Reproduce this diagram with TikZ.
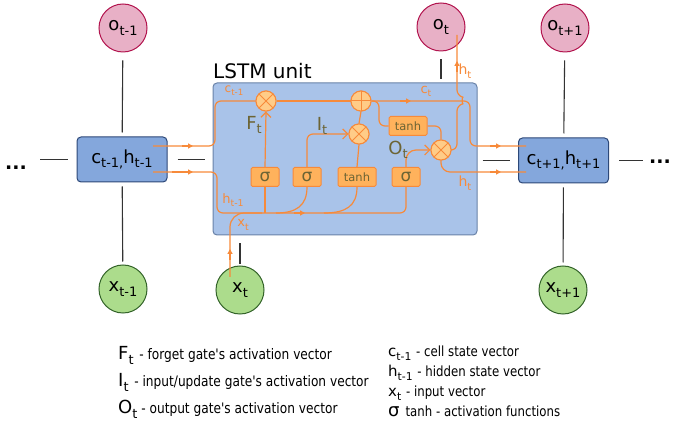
\documentclass[tikz,border=0pt]{standalone}
\usepackage{fontspec}
\setmainfont{DejaVu Sans}
\newfontfamily\narrowfont[FakeStretch=0.84]{DejaVu Sans}
\usetikzlibrary{arrows.meta,calc}
\definecolor{orline}{RGB}{247,138,58}
\definecolor{gfill}{RGB}{255,178,92}
\definecolor{opfill}{RGB}{255,204,136}
\definecolor{unitfill}{RGB}{169,195,233}
\definecolor{unitline}{RGB}{105,130,168}
\definecolor{stfill}{RGB}{132,167,220}
\definecolor{stline}{RGB}{45,72,120}
\definecolor{ofill}{RGB}{232,176,198}
\definecolor{oline}{RGB}{178,20,78}
\definecolor{xfill}{RGB}{172,220,140}
\definecolor{xline}{RGB}{52,100,42}
\definecolor{olive}{RGB}{108,100,52}
\newcommand\lsub[1]{\raisebox{-0.45ex}{\scalebox{0.72}{#1}}}
\newcommand\fs[1]{\fontsize{#1}{#1}\selectfont}
\begin{document}
\begin{tikzpicture}[x=1pt,y=-1pt,
  conn/.style={draw=black!80, line width=1.1pt},
  orl/.style={draw=orline, line width=1.2pt, rounded corners=6pt},
  orarr/.style={draw=orline, line width=1.2pt, -{Triangle[length=5pt,width=5pt]}},
  openarr/.style={-{Straight Barb[length=5pt,width=10pt]}},
  statebox/.style={rectangle, rounded corners=4pt, fill=stfill, draw=stline, line width=1pt,
    minimum width=90, minimum height=45, inner sep=0, font=\fs{18}},
  ocirc/.style={circle, minimum size=48, inner sep=0, fill=ofill, draw=oline, line width=1pt, font=\fs{18}},
  xcirc/.style={circle, minimum size=48, inner sep=0, fill=xfill, draw=xline, line width=1pt, font=\fs{18}},
  unitbox/.style={rectangle, rounded corners=4pt, fill=unitfill, draw=unitline, line width=1pt},
  opnode/.style={circle, minimum size=20, inner sep=0, fill=opfill, draw=orline, line width=1pt},
  times/.style={opnode, path picture={\draw[orline,line width=1pt]
     (path picture bounding box.south west) -- (path picture bounding box.north east)
     (path picture bounding box.north west) -- (path picture bounding box.south east);}},
  plusop/.style={opnode, path picture={\draw[orline,line width=1pt]
     (path picture bounding box.north) -- (path picture bounding box.south)
     (path picture bounding box.west) -- (path picture bounding box.east);}},
  gatebox/.style={rectangle, rounded corners=1.5pt, fill=gfill, draw=orline, line width=1pt,
    minimum width=28, minimum height=19, inner sep=0, text=olive, font=\fs{17}},
  tanhbox/.style={gatebox, minimum width=38, font=\fs{11.5}},
  olab/.style={text=orline, inner sep=0},
  glab/.style={text=olive, inner sep=0, font=\fs{18}},
  dots/.style={inner sep=0, font=\bfseries\fs{19}},
  legend/.style={anchor=base west, inner sep=0}
]
\useasboundingbox (0,0) rectangle (673,430);

% LSTM unit
\node[unitbox, minimum width=264, minimum height=152] (unit) at (345,159) {};
\node[anchor=base west, inner sep=0, font=\fs{20}] (unitlab) at (213,79) {LSTM unit};

% outer nodes
\node[ocirc] (ot1) at (123,28) {o\lsub{t-1}};
\node[ocirc] (ot)  at (441,27) {o\lsub{t}};
\node[ocirc] (otp) at (565,28) {o\lsub{t+1}};
\node[xcirc] (xt1) at (123,289) {x\lsub{t-1}};
\node[xcirc] (xt)  at (240,290) {x\lsub{t}};
\node[xcirc] (xtp) at (563,290) {x\lsub{t+1}};
\node[statebox] (hprev) at (122,159.5) {c\lsub{t-1,}h\lsub{t-1}};
\node[statebox] (hnext) at (563.5,160.5) {c\lsub{t+1,}h\lsub{t+1}};
\node[dots, anchor=base] (ldots) at (16,170) {...};
\node[dots, anchor=base] (rdots) at (660,164) {...};

% black connectors
\draw[conn, shorten <=8pt, shorten >=4pt] (ot1) -- (hprev);
\draw[conn, shorten <=4pt, shorten >=3pt] (hprev) -- (xt1);
\draw[conn, shorten <=8pt, shorten >=4pt] (otp) -- (hnext);
\draw[conn, shorten <=4pt, shorten >=3pt] (hnext) -- (xtp);
\draw[conn, shorten <=13pt, shorten >=9pt] (ldots.east |- hprev) -- (hprev);
\draw[conn, shorten <=10pt, shorten >=8pt] (hprev) -- (hprev -| unit.west);
\draw[conn, shorten <=5pt, shorten >=8pt] (hnext -| unit.east) -- (hnext);
\draw[conn, shorten <=10pt, shorten >=6pt] (hnext) -- (rdots.west |- hnext);
\draw[conn, shorten <=8pt, shorten >=3pt] (ot) -- (ot |- unit.north);
\draw[conn, shorten <=8pt, shorten >=1pt] (xt |- unit.south) -- (xt);

% gates
\node[times]  (fx)   at (266,101) {};
\node[plusop] (plus) at (361,101) {};
\node[times]  (ix)   at (359,134) {};
\node[times]  (ox)   at (441,150) {};
\node[gatebox] (s1) at (265,177) {σ};
\node[gatebox] (s2) at (307,177) {σ};
\node[tanhbox] (th1) at (357,177) {tanh};
\node[gatebox] (s4) at (406,177) {σ};
\node[tanhbox] (th2) at (408,126) {tanh};

% coordinates for free ends
\coordinate (cin) at (153,146);
\coordinate (hin) at (153,172);
\coordinate (cout) at (526,146);
\coordinate (hout) at (526,172);
\coordinate (xin) at (230,277);
\coordinate (htop) at (457,35);

% orange flows
\draw[orl] (cin) -- (215,146) -- (215,101) -- (fx.west);
\draw[orarr] (182,146) -- (193,146);
\draw[orl] (fx.east) -- (plus.west);
\draw[orl] (plus.east) -- (470,101) -- (470,146) -- (cout);
\draw[orarr] (400,101) -- (411,101);
\draw[orarr] (490,146) -- (501,146);
\draw[orl] (plus.east) -- (379,101) -- (379,126) -- (th2.west);
\draw[orl] (th2.east) -- (441,126) -- (ox.north);
\draw[orl] (ox.east) -- (457,150) -- (457,105) .. controls (462,104) and (462,97) .. (457,96) -- (htop);
\draw[orarr] (457,72) -- (457,61);
\draw[orl, rounded corners=9pt] (ox.south) -- (441,172) -- (hout);
\draw[orarr] (490,172) -- (501,172);
\draw[orl] (hin) -- (217,172) -- (217,213) -- (406,213) -- (s4.south);
\draw[orarr] (172,172) -- (193,172);
\draw[orarr] (294,213) -- (305,213);
\draw[orl] (s1.south) -- (265,213);
\draw[orl] (s2.south) .. controls (307,206) and (296,213) .. (276,213);
\draw[orl] (th1.south) .. controls (357,206) and (346,213) .. (324,213);
\draw[orl, rounded corners=14pt] (xin) -- (230,213) -- (262,213);
\draw[orarr] (230,260) -- (230,249);
\draw[orl, openarr] (s1.north) -- (fx.south);
\draw[orl, openarr] (s2.north) -- (307,134) -- (ix.west);
\draw[orl] (th1.north) -- (ix.south);
\draw[orl] (ix.north) -- (plus.south);
\draw[orl, openarr, rounded corners=10pt] (s4.north) -- (406,150) -- (ox.west);

% redraw gates on top
\node[times]  at (fx) {};
\node[plusop] at (plus) {};
\node[times]  at (ix) {};
\node[times]  at (ox) {};

% labels
\node[olab, font=\fs{12}] (lct1) at (234,91) {c\lsub{t-1}};
\node[olab, font=\fs{13}] (lct) at (426,91) {c\lsub{t}};
\node[olab, font=\fs{14}] (lht1) at (465,71) {h\lsub{t}};
\node[olab, font=\fs{14}] (lht2) at (465,183) {h\lsub{t}};
\node[olab, font=\fs{13}] (lhtm) at (233,200) {h\lsub{t-1}};
\node[olab, font=\fs{13}] (lxt) at (243,225) {x\lsub{t}};
\node[glab] (lF) at (254,125) {F\lsub{t}};
\node[glab] (lI) at (322,126) {I\lsub{t}};
\node[glab] (lO) at (398,150) {O\lsub{t}};

% legend
\node[legend] (leg1) at (118,360) {\fs{18}F\lsub{t} \narrowfont\fs{14.5}- forget gate's activation vector};
\node[legend] (leg2) at (118,387) {\fs{18}I\lsub{t} \narrowfont\fs{14.5}- input/update gate's activation vector};
\node[legend] (leg3) at (118,414) {\fs{18}O\lsub{t}\narrowfont\fs{14.5} - output gate's activation vector};
\node[legend] (leg4) at (388,357) {\fs{15}c\lsub{t-1} \narrowfont\fs{14}- cell state vector};
\node[legend] (leg5) at (388,377) {\fs{15}h\lsub{t-1} \narrowfont\fs{14}- hidden state vector};
\node[legend] (leg6) at (388,397) {\fs{15}x\lsub{t} \narrowfont\fs{14}- input vector};
\node[legend] (leg7) at (388,417) {\fs{18}σ\hspace{6pt}\narrowfont\fs{14}tanh - activation functions};
\end{tikzpicture}
\end{document}
